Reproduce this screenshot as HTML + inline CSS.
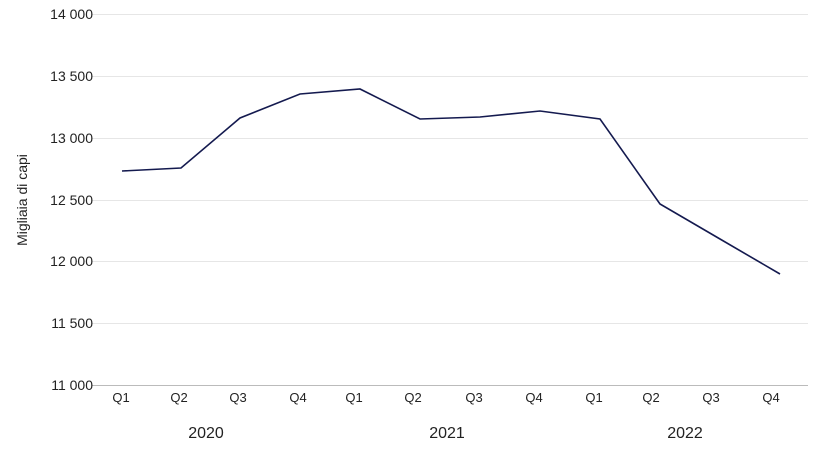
<!DOCTYPE html>
<html><head><meta charset="utf-8"><style>
body{margin:0;background:#fff;}
svg text{font-family:"Liberation Sans",Arial,sans-serif;fill:#222;}
</style></head><body>
<svg width="820" height="462" xmlns="http://www.w3.org/2000/svg">
<g stroke="#e6e6e6" stroke-width="1">
<line x1="92" x2="808" y1="14.5" y2="14.5"/>
<line x1="92" x2="808" y1="76.5" y2="76.5"/>
<line x1="92" x2="808" y1="138.5" y2="138.5"/>
<line x1="92" x2="808" y1="200.5" y2="200.5"/>
<line x1="92" x2="808" y1="261.5" y2="261.5"/>
<line x1="92" x2="808" y1="323.5" y2="323.5"/>
</g>
<line x1="92" x2="808" y1="385.5" y2="385.5" stroke="#bbb"/>
<g font-size="14" text-anchor="end">
<text x="93" y="19">14 000</text>
<text x="93" y="81">13 500</text>
<text x="93" y="143">13 000</text>
<text x="93" y="205">12 500</text>
<text x="93" y="266">12 000</text>
<text x="93" y="328">11 500</text>
<text x="93" y="390">11 000</text>
</g>
<text transform="translate(27,200) rotate(-90)" font-size="14" text-anchor="middle">Migliaia di capi</text>
<g font-size="13" text-anchor="middle">
<text x="121" y="402">Q1</text><text x="179" y="402">Q2</text><text x="238" y="402">Q3</text><text x="298" y="402">Q4</text>
<text x="354" y="402">Q1</text><text x="413" y="402">Q2</text><text x="474" y="402">Q3</text><text x="534" y="402">Q4</text>
<text x="594" y="402">Q1</text><text x="651" y="402">Q2</text><text x="711" y="402">Q3</text><text x="771" y="402">Q4</text>
</g>
<g font-size="16" text-anchor="middle">
<text x="206" y="438">2020</text><text x="447" y="438">2021</text><text x="685" y="438">2022</text>
</g>
<polyline fill="none" stroke="#141a4f" stroke-width="1.6" points="122,171 181,168 240,118 300,94 360,89 420,119 480,117 540,111 600,119 660,204 720,239 780,274"/>
</svg>
</body></html>
